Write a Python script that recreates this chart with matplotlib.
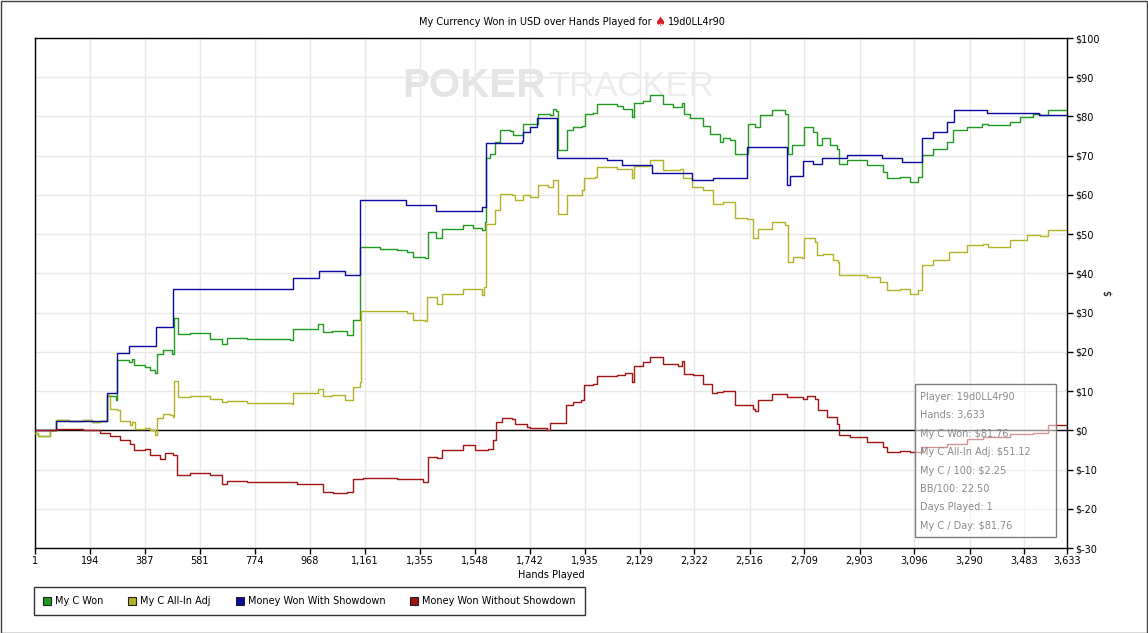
import matplotlib
matplotlib.use('Agg')
import matplotlib.pyplot as plt
from matplotlib.lines import Line2D
from matplotlib.patches import Rectangle

# hand number where the value starts, and the running total in USD (steps-post)
won_hands = [1, 10, 54, 75, 120, 170, 200, 230, 253, 286, 291, 333, 341, 349, 388, 406, 423, 429,
             452, 482, 490, 505, 547, 617, 658, 676, 746, 898, 910, 998, 1016, 1045, 1098, 1121,
             1145, 1215, 1274, 1309, 1332, 1374, 1385, 1412, 1432, 1508, 1544, 1573, 1584, 1588,
             1602, 1620, 1637, 1673, 1684, 1720, 1743, 1772, 1813, 1823, 1834, 1840, 1872, 1895,
             1925, 1937, 1966, 1978, 2048, 2072, 2101, 2109, 2142, 2165, 2212, 2247, 2277, 2285,
             2306, 2353, 2377, 2412, 2424, 2447, 2465, 2511, 2535, 2553, 2594, 2641, 2652, 2664,
             2708, 2740, 2752, 2770, 2799, 2823, 2832, 2858, 2928, 2986, 2998, 3045, 3080, 3110,
             3122, 3163, 3209, 3233, 3280, 3333, 3356, 3432, 3468, 3514, 3538, 3567, 3633]
won_vals = [-0.8, -1.5, 0.2, 2.7, 2.3, 2.6, 2.1, 2.4, 8.7, 7.6, 17.8, 17.4, 18.3, 16.7, 16.2, 15.5,
            14.6, 19.5, 20.4, 19.4, 28.7, 24.6, 24.9, 23.4, 22.1, 23.6, 23.3, 23.1, 25.9, 27.0,
            25.1, 25.4, 24.2, 28.0, 46.7, 46.3, 46.0, 45.5, 44.2, 44.0, 50.5, 48.9, 51.2, 52.3,
            51.5, 51.0, 53.1, 69.3, 70.5, 73.5, 76.5, 76.3, 75.2, 78.2, 78.0, 80.7, 80.3, 82.0,
            81.5, 71.4, 76.5, 77.3, 77.6, 80.7, 81.0, 83.3, 82.6, 82.0, 79.8, 83.4, 84.0, 85.4,
            83.3, 82.4, 83.5, 80.7, 79.7, 77.5, 75.6, 73.5, 74.4, 73.9, 70.5, 78.2, 77.3, 80.3,
            81.7, 80.7, 70.5, 72.6, 77.3, 76.0, 72.6, 74.4, 72.6, 71.8, 68.0, 68.8, 67.6, 65.8,
            64.2, 64.5, 63.3, 64.6, 70.1, 71.8, 73.5, 76.5, 77.3, 78.2, 77.9, 78.6, 79.9, 80.7,
            80.4, 81.7, 81.76]

adj_hands = [1, 10, 54, 75, 120, 170, 200, 230, 255, 265, 291, 300, 335, 341, 353, 388, 406, 423,
             429, 452, 476, 486, 490, 505, 547, 617, 658, 676, 746, 904, 910, 998, 1016, 1045,
             1092, 1119, 1145, 1147, 1215, 1309, 1332, 1374, 1382, 1415, 1432, 1508, 1573, 1581,
             1588, 1620, 1637, 1679, 1690, 1720, 1743, 1772, 1808, 1823, 1834, 1840, 1874, 1925,
             1933, 1972, 1978, 2048, 2101, 2109, 2165, 2212, 2271, 2282, 2312, 2353, 2388, 2424,
             2465, 2506, 2529, 2547, 2594, 2641, 2652, 2670, 2699, 2708, 2746, 2752, 2776, 2811,
             2828, 2832, 2869, 2928, 2975, 2998, 3045, 3080, 3110, 3122, 3163, 3209, 3219, 3280,
             3338, 3356, 3432, 3491, 3538, 3567, 3633]
adj_vals = [-0.8, -1.5, 0.2, 2.7, 2.3, 2.6, 2.1, 2.4, 8.9, 5.5, 5.1, 2.5, 1.3, 2.0, 0.4, 0.6, 0.0,
            -1.3, 3.2, 4.2, 4.0, 3.5, 12.5, 8.5, 8.7, 8.1, 7.2, 7.5, 7.0, 6.8, 9.4, 10.6, 8.7,
            8.9, 7.8, 11.0, 12.2, 30.5, 30.3, 29.9, 28.0, 27.8, 34.0, 32.3, 34.8, 35.9, 34.4,
            36.5, 52.7, 56.1, 60.3, 60.0, 58.6, 59.9, 59.4, 62.5, 61.9, 63.7, 63.7, 55.2, 59.9,
            61.2, 64.2, 64.5, 67.0, 66.5, 64.2, 67.3, 68.8, 66.4, 66.6, 64.2, 62.0, 61.2, 57.8,
            58.2, 54.0, 53.9, 48.9, 51.4, 53.1, 52.3, 42.9, 44.2, 43.8, 48.9, 47.9, 44.6, 45.0,
            43.3, 43.0, 39.5, 39.7, 39.1, 37.8, 35.7, 35.9, 34.8, 35.7, 42.1, 43.3, 43.3, 45.5,
            47.2, 47.5, 46.6, 48.4, 49.7, 49.5, 51.0, 51.12]

sd_hands = [1, 75, 253, 291, 333, 427, 488, 645, 910, 1002, 1092, 1145, 1307, 1412, 1575, 1588,
            1714, 1720, 1743, 1769, 1837, 2013, 2066, 2171, 2312, 2387, 2458, 2506, 2649, 2658,
            2703, 2740, 2772, 2858, 2981, 3051, 3122, 3160, 3212, 3235, 3353, 3535, 3633]
sd_vals = [0.0, 2.4, 9.5, 19.8, 21.5, 26.3, 35.9, 36.1, 38.9, 40.5, 39.7, 58.8, 57.4, 55.9, 57.0,
           73.3, 73.7, 76.0, 77.3, 79.5, 69.3, 68.8, 67.6, 65.6, 63.7, 64.2, 64.3, 72.2, 62.5,
           64.7, 68.6, 67.8, 69.4, 70.2, 69.5, 68.3, 74.6, 76.0, 78.6, 81.7, 80.9, 80.5, 80.5]

nosd_hands = [1, 54, 77, 171, 230, 265, 300, 335, 349, 388, 406, 441, 458, 488, 500, 547, 617, 658,
              676, 746, 922, 1004, 1016, 1051, 1098, 1121, 1156, 1274, 1368, 1385, 1415, 1432,
              1508, 1549, 1596, 1614, 1623, 1643, 1679, 1690, 1731, 1743, 1802, 1813, 1860, 1869,
              1895, 1921, 1933, 1966, 1978, 2048, 2077, 2101, 2109, 2142, 2165, 2212, 2265, 2277,
              2285, 2318, 2353, 2383, 2400, 2424, 2465, 2529, 2535, 2547, 2594, 2647, 2705, 2717,
              2746, 2758, 2787, 2823, 2832, 2869, 2928, 2986, 2998, 3045, 3080, 3122, 3209, 3280,
              3338, 3432, 3514, 3567, 3633]
nosd_vals = [0.0, 0.2, 0.4, 0.2, -0.7, -1.5, -2.5, -3.4, -5.1, -4.7, -6.4, -7.2, -5.9, -6.2, -11.5,
             -10.9, -11.4, -13.6, -12.8, -13.2, -13.6, -13.7, -15.7, -16.1, -15.6, -12.3, -12.1,
             -12.4, -13.2, -6.8, -7.0, -5.1, -3.8, -4.9, -4.8, -2.5, 2.1, 3.2, 2.8, 1.7, 0.8, 0.5,
             0.2, 1.9, 1.9, 6.4, 7.2, 7.6, 11.5, 11.9, 13.8, 14.0, 14.5, 12.3, 16.3, 17.4, 18.7,
             17.0, 16.5, 17.7, 14.4, 14.0, 11.9, 9.4, 9.8, 10.0, 6.4, 5.5, 4.8, 7.6, 9.3, 8.4,
             8.1, 8.8, 8.0, 5.1, 3.4, 1.7, -1.3, -1.6, -3.0, -4.2, -5.5, -5.3, -5.6, -4.2, -3.4,
             -2.1, -1.8, -0.9, -0.7, 1.3, 0.8]

x_ticks = [1, 194, 387, 581, 774, 968, 1161, 1355, 1548, 1742, 1935, 2129, 2322, 2516, 2709,
           2903, 3096, 3290, 3483, 3633]
y_ticks = list(range(-30, 101, 10))

info_lines = ['Player: 19d0LL4r90', 'Hands: 3,633', 'My C Won: $81.76', 'My C All-In Adj: $51.12',
              'My C / 100: $2.25', 'BB/100: 22.50', 'Days Played: 1', 'My C / Day: $81.76']

series = [('My C Won', won_hands, won_vals, '#1f9a1f'),
          ('My C All-In Adj', adj_hands, adj_vals, '#b2b224'),
          ('Money Won With Showdown', sd_hands, sd_vals, '#0a0aa0'),
          ('Money Won Without Showdown', nosd_hands, nosd_vals, '#a01414')]

plt.rcParams['font.family'] = ['DejaVu Sans']
FS = 7

W, H = 1148, 633
fig = plt.figure(figsize=(W / 100, H / 100), dpi=100)
fig.patch.set_facecolor('white')
fig.add_artist(Rectangle((0.5 / W, 0.5 / H), 1 - 1.5 / W, 1 - 1.5 / H, transform=fig.transFigure,
                         fill=False, edgecolor='#404040', linewidth=1))

ax = fig.add_axes([35 / W, (H - 548) / H, 1032 / W, 510 / H])

# watermark
ax.text((402 - 35) / 1032, 0.905, 'POKER', transform=ax.transAxes, fontsize=29, fontweight='bold',
        color='#e4e4e4', ha='left', va='center', family='Liberation Sans', zorder=0)
ax.text((548 - 35) / 1032, 0.905, 'TRACKER', transform=ax.transAxes, fontsize=25,
        color='#ececec', ha='left', va='center', family='Liberation Sans', zorder=0)

for name, hx, hy, col in series:
    ax.plot(hx, hy, drawstyle='steps-post', color=col, linewidth=1, zorder=3)

ax.axhline(0, color='black', linewidth=1, zorder=2)

ax.set_xlim(1, 3633)
ax.set_ylim(-30, 100)
ax.set_xticks(x_ticks)
ax.set_xticklabels(['{:,}'.format(t) for t in x_ticks], fontsize=FS)
ax.set_yticks(y_ticks)
ax.set_yticklabels(['$' + str(t) for t in y_ticks], fontsize=FS)
ax.yaxis.tick_right()
ax.yaxis.set_label_position('right')
ax.tick_params(axis='both', direction='out', length=4, width=1, color='black', pad=2)
ax.grid(True, color='#e8e8e8', linewidth=1, zorder=0)
ax.set_axisbelow(True)
for s in ax.spines.values():
    s.set_color('black')
    s.set_linewidth(1)

ax.set_xlabel('Hands Played', fontsize=FS, labelpad=3)
ax.set_ylabel('$', fontsize=FS, labelpad=2)

# title with red spade
fig.text(652 / W, 1 - 22 / H, 'My Currency Won in USD over Hands Played for', fontsize=FS,
         ha='right', va='center')
fig.text(660 / W, 1 - 22 / H, '\u2660', fontsize=9, color='#d42020', ha='center', va='center')
fig.text(668 / W, 1 - 22 / H, '19d0LL4r90', fontsize=FS, ha='left', va='center')

# stats box
x0, y0, x1, y1 = 915, 384, 1056, 537
fig.add_artist(Rectangle((x0 / W, 1 - y1 / H), (x1 - x0) / W, (y1 - y0) / H, transform=fig.transFigure,
                         facecolor='white', alpha=0.55, edgecolor='none', zorder=5))
fig.add_artist(Rectangle((x0 / W, 1 - y1 / H), (x1 - x0) / W, (y1 - y0) / H, transform=fig.transFigure,
                         fill=False, edgecolor='#808080', linewidth=1, zorder=6))
for i, line in enumerate(info_lines):
    fig.text(920 / W, 1 - (397 + i * 18.4) / H, line, fontsize=FS, color='#8a8a8a',
             ha='left', va='center', zorder=7)

handles = [Line2D([], [], linestyle='none', marker='s', markersize=6, markerfacecolor=c,
                  markeredgecolor='#202020', markeredgewidth=0.8) for _, _, _, c in series]
leg = fig.legend(handles, [s[0] for s in series], loc='upper left', ncol=4,
                 bbox_to_anchor=(34 / W, 1 - 587 / H), fontsize=FS, frameon=True, fancybox=False,
                 handlelength=0.8, handletextpad=0.4, columnspacing=2.6, borderpad=0.95,
                 borderaxespad=0)
leg.get_frame().set_edgecolor('black')
leg.get_frame().set_linewidth(1)

fig.savefig('out.png', dpi=100, facecolor='white')
